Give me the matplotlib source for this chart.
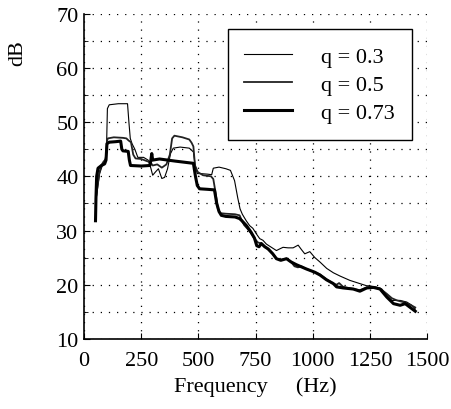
import matplotlib
matplotlib.use("Agg")
import matplotlib.pyplot as plt
from matplotlib.ticker import MultipleLocator

# values
freq_q03 = [55, 60, 68, 80, 92, 98, 102, 110, 150, 190, 196, 202, 210, 222, 235, 260,
            280, 292, 300, 312, 325, 340, 352, 365, 378, 390, 420, 460, 478, 486, 495,
            510, 540, 558, 565, 590, 620, 640, 658, 672, 682, 692, 709, 724, 738, 753,
            768, 782, 797, 819, 841, 855, 870, 892, 914, 936, 950, 965, 987, 1009,
            1031, 1061, 1090, 1119, 1162, 1206, 1236, 1250, 1280, 1302, 1324, 1346,
            1382, 1411, 1433, 1448]
db_q03 = [36.5, 38, 40.5, 42, 43, 45, 52.5, 53.2, 53.4, 53.4, 50, 47, 46, 45, 43.5, 43.5,
          43, 41.5, 40.2, 40.8, 41.4, 39.6, 39.8, 41.4, 44.2, 45.2, 45.4, 45.2, 44.5, 42,
          40.5, 40.5, 40.4, 40.3, 41.5, 41.7, 41.4, 41.1, 39.2, 36, 34, 33, 31.8, 30.9,
          30.4, 29.4, 28.5, 28.2, 27.5, 26.9, 26.3, 26.6, 26.9, 26.8, 26.8, 27.3, 26.5,
          25.7, 26.1, 25.0, 24.2, 23.0, 22.2, 21.6, 20.8, 20.2, 19.8, 19.8, 19.5, 19.2,
          18.0, 17.1, 17.1, 16.8, 16.2, 15.5]

freq_q05 = [52, 58, 66, 75, 85, 95, 100, 104, 130, 170, 185, 195, 205, 215, 225, 250,
            275, 290, 300, 320, 340, 360, 375, 385, 395, 430, 460, 470, 478, 485, 497,
            520, 555, 565, 575, 585, 595, 620, 660, 680, 690, 700, 715, 730, 745, 760,
            775, 800, 825, 841, 860, 885, 905, 920, 935, 950, 972, 1009, 1031, 1060,
            1090, 1104, 1115, 1133, 1177, 1206, 1236, 1265, 1294, 1324, 1346, 1368,
            1404, 1426, 1448]
db_q05 = [36, 38, 40.5, 42, 42.7, 43.2, 46.5, 47, 47.2, 47.1, 47, 46.6, 46.3, 44, 43.3,
          43.2, 42.8, 42.6, 42, 42.2, 41.6, 42.2, 44, 47, 47.5, 47.2, 46.8, 46.2, 45.5,
          42, 40.8, 40.2, 40.0, 39.5, 37, 34, 33.2, 33.1, 33.0, 32.8, 31.8, 31, 30.3,
          29.5, 28.5, 27.8, 27.6, 26.7, 25.7, 24.8, 24.6, 24.8, 24.2, 23.4, 23.2, 23.4,
          22.9, 22.3, 21.9, 21.0, 20.2, 20.0, 20.3, 19.6, 19.2, 19.0, 19.5, 19.6, 19.3,
          18.3, 17.5, 17.1, 16.7, 16.3, 15.8]

freq_q073 = [50, 52, 55, 61, 76, 90, 96, 100, 110, 140, 160, 165, 170, 193, 198, 203,
             250, 288, 292, 296, 300, 330, 400, 478, 487, 495, 505, 540, 570, 580, 590,
             600, 620, 660, 680, 690, 710, 730, 745, 755, 765, 775, 790, 805, 825, 841,
             860, 885, 905, 928, 950, 972, 1009, 1031, 1060, 1090, 1104, 1133, 1177,
             1206, 1236, 1265, 1294, 1324, 1353, 1382, 1404, 1426, 1448]
db_q073 = [31.8, 36, 40, 41.5, 42, 42.3, 43, 46, 46.3, 46.4, 46.5, 45, 44.7, 44.6, 43,
           42, 41.9, 42, 43, 44.2, 43, 43.2, 42.8, 42.4, 40, 38.3, 37.7, 37.6, 37.5, 35,
           33.5, 32.8, 32.6, 32.5, 32.2, 31.8, 30.9, 29.7, 28.6, 27.2, 27.0, 27.6, 27.0,
           26.6, 25.7, 24.8, 24.5, 24.8, 24.2, 23.7, 23.3, 22.9, 22.3, 21.8, 20.9, 20.2,
           19.6, 19.4, 19.2, 18.8, 19.4, 19.5, 19.2, 17.7, 16.5, 16.2, 16.5, 15.8, 15.1]

labels = ["q = 0.3", "q = 0.5", "q = 0.73"]
x_ticks = [0, 250, 500, 750, 1000, 1250, 1500]
y_ticks = [10, 20, 30, 40, 50, 60, 70]

plt.rcParams["font.family"] = ["Liberation Serif", "DejaVu Serif"]

fig = plt.figure(figsize=(4.52, 4.10), dpi=100)
ax = fig.add_axes([0.186, 0.171, 0.759, 0.793])

ax.plot(freq_q03, db_q03, color="black", linewidth=0.8, label=labels[0])
ax.plot(freq_q05, db_q05, color="#222222", linewidth=1.3, label=labels[1])
ax.plot(freq_q073, db_q073, color="black", linewidth=2.2, label=labels[2])

ax.set_xlim(0, 1500)
ax.set_ylim(10, 70)
ax.set_xticks(x_ticks)
ax.set_yticks(y_ticks)
ax.yaxis.set_minor_locator(MultipleLocator(5))

ax.grid(True, which="both", color="black", linestyle=(0, (1, 5.5)), linewidth=0.9)
ax.spines["top"].set_visible(False)
ax.spines["right"].set_visible(False)
ax.spines["left"].set_linewidth(1.2)
ax.spines["bottom"].set_linewidth(1.2)

ax.tick_params(axis="both", which="both", direction="in", labelsize=16)
ax.tick_params(axis="x", which="major", length=4, pad=9)
ax.tick_params(axis="y", which="major", length=4, pad=4)
ax.tick_params(axis="y", which="minor", length=3)

ax.set_xlabel("Frequency     (Hz)", fontsize=16, labelpad=4)
ax.set_ylabel("dB", fontsize=16)
ax.yaxis.set_label_coords(-0.165, 0.883)

leg = ax.legend(loc="upper left", bbox_to_anchor=(0.419, 0.952), fontsize=16,
                handlelength=2.15, handletextpad=1.3, borderpad=0.75,
                labelspacing=0.35, borderaxespad=0, fancybox=False, framealpha=1)
leg.get_frame().set_edgecolor("black")
leg.get_frame().set_linewidth(1.0)

fig.savefig("out.png", dpi=100)
plt.close(fig)
